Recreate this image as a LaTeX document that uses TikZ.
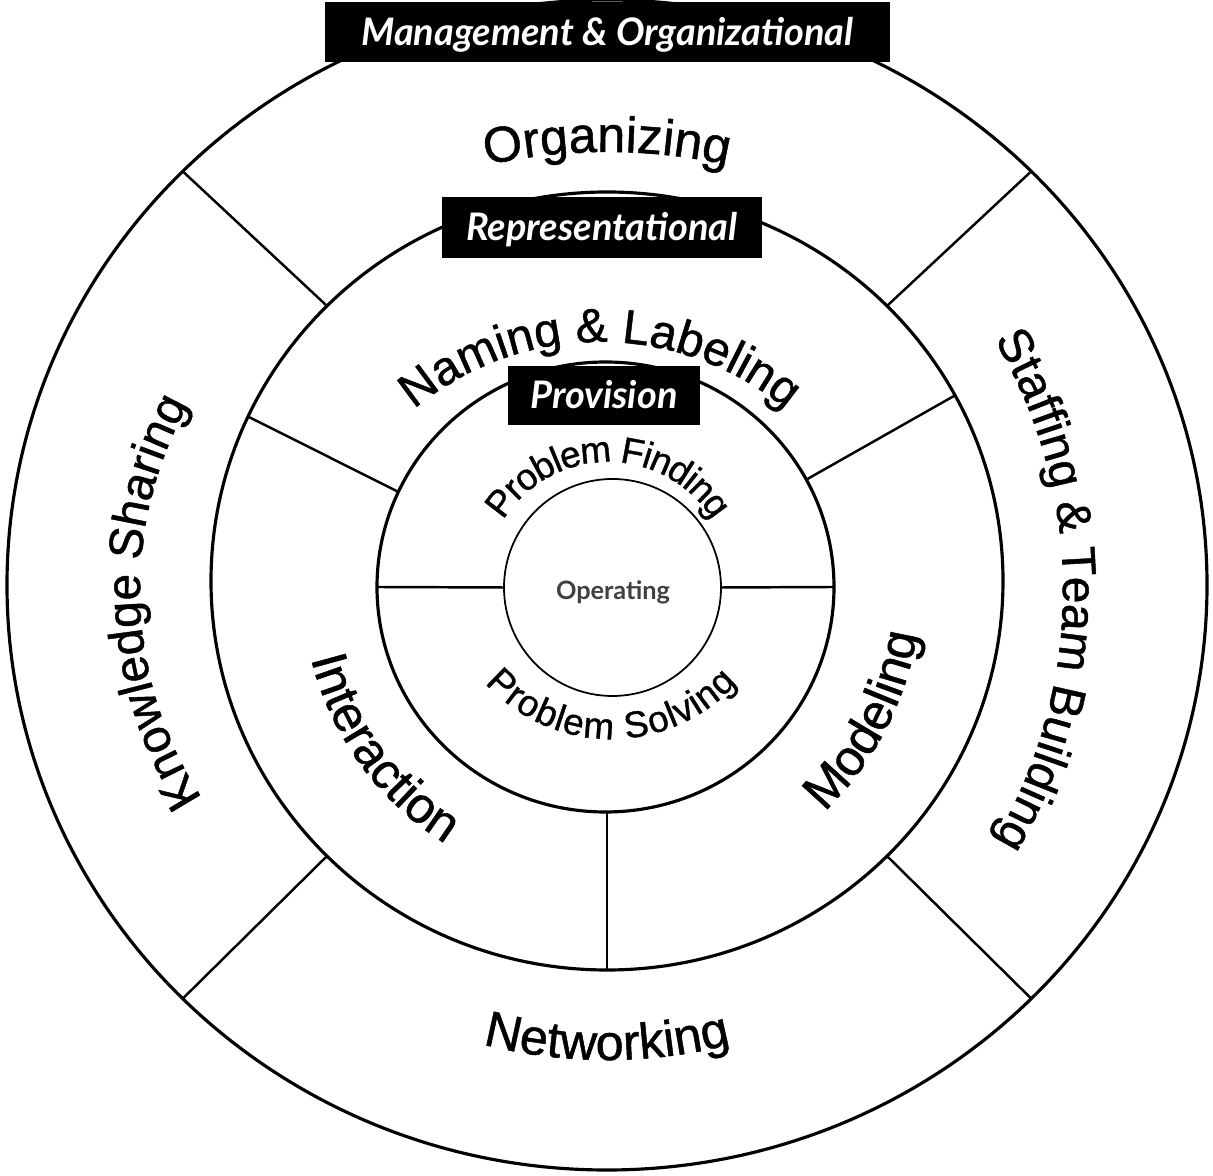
\documentclass[tikz,border=0pt]{standalone}
\usepackage{fontspec}
\usetikzlibrary{calc,decorations.text}
\setmainfont[FakeBold=1]{Liberation Sans}
\newfontfamily\tagFont{Lato}
\newcommand\ringFont{\fontsize{14.3}{17}\selectfont}
\newcommand\sideFont{\fontsize{13.6}{16}\selectfont}
\newcommand\coreFont{\fontsize{10.5}{12}\selectfont}

\begin{document}
\begin{tikzpicture}[ringStyle/.style={draw, line width=0.9pt}, splitStyle/.style={draw, line width=0.7pt}, tagStyle/.style={rectangle, fill=black, text=white, inner sep=0pt, text height=0.27cm, text depth=0pt, font=\tagFont\bfseries\itshape\fontsize{10.8}{12}\selectfont}, arcText/.style={decorate, decoration={text along path, text align=center, text={#1}}}, arcTextLow/.style={decorate, decoration={text along path, text align=center, raise=-0.1cm, text={#1}}}]
    \useasboundingbox (-6.07, -5.91) rectangle (6.06, 5.85);

    \draw[ringStyle] (0, 0) ellipse [x radius=6.00, y radius=5.85];
    \draw[ringStyle] (0, 0.04) ellipse [x radius=3.96, y radius=3.89];
    \draw[ringStyle] (-0.015, -0.02) ellipse [x radius=2.285, y radius=2.25];
    \draw[line width=0.5pt] (0.055, -0.025) circle [radius=1.085];

    \coordinate (outer_45)  at (45:6.00 and 5.85);
    \coordinate (outer_135) at (135:6.00 and 5.85);
    \coordinate (outer_225) at (225:6.00 and 5.85);
    \coordinate (outer_315) at (315:6.00 and 5.85);
    \coordinate (mid_28)  at ($(0, 0.04) + (28.5:3.96 and 3.89)$);
    \coordinate (mid_45)  at ($(0, 0.04) + (45:3.96 and 3.89)$);
    \coordinate (mid_135) at ($(0, 0.04) + (135:3.96 and 3.89)$);
    \coordinate (mid_155) at ($(0, 0.04) + (155:3.96 and 3.89)$);
    \coordinate (mid_225) at ($(0, 0.04) + (225:3.96 and 3.89)$);
    \coordinate (mid_270) at ($(0, 0.04) + (270:3.96 and 3.89)$);
    \coordinate (mid_315) at ($(0, 0.04) + (315:3.96 and 3.89)$);
    \coordinate (prov_0)   at ($(-0.015, -0.02) + (0:2.285 and 2.25)$);
    \coordinate (prov_28)  at ($(-0.015, -0.02) + (28.5:2.285 and 2.25)$);
    \coordinate (prov_155) at ($(-0.015, -0.02) + (155:2.285 and 2.25)$);
    \coordinate (prov_180) at ($(-0.015, -0.02) + (180:2.285 and 2.25)$);
    \coordinate (prov_270) at (0, -2.27);
    \coordinate (core_0)   at (1.14, -0.025);
    \coordinate (core_180) at (-1.03, -0.025);

    \draw[splitStyle] (outer_45)  -- (mid_45);
    \draw[splitStyle] (outer_135) -- (mid_135);
    \draw[splitStyle] (outer_225) -- (mid_225);
    \draw[splitStyle] (outer_315) -- (mid_315);
    \draw[splitStyle] (mid_28)  -- (prov_28);
    \draw[splitStyle] (mid_155) -- (prov_155);
    \draw[splitStyle] (mid_270) -- (prov_270);
    \draw[splitStyle] (prov_0)   -- (core_0);
    \draw[splitStyle] (prov_180) -- (core_180);

    \node[tagStyle, minimum width=5.65cm, minimum height=0.60cm] (tag_0) at (0.005, 5.53) {Management \& Organizational};
    \node[tagStyle, minimum width=3.20cm, minimum height=0.61cm] (tag_1) at (-0.05, 3.575) {Representational};
    \node[tagStyle, minimum width=1.92cm, minimum height=0.59cm] (tag_2) at (-0.03, 1.895) {Provision};
    \node[font=\tagFont\bfseries\fontsize{7.2}{9}\selectfont, text=black!75] (core) at (0.06, -0.07) {Operating};

    {\ringFont
    \path[arcText={Organizing}] ($(0, -1.27) + (110:5.6)$) arc[start angle=110, end angle=70, radius=5.6];
    \path[arcText={Networking}] ($(0, 0.25) + (250:5.0)$) arc[start angle=250, end angle=290, radius=5.0];
    \path[arcText={Interaction}] (156:3.05) arc[start angle=156, end angle=276, radius=3.05];
    \path[arcText={Modeling}] (272.4:3.14) arc[start angle=272.4, end angle=392.4, radius=3.14];
    }
    {\sideFont
    \path[arcText={Knowledge Sharing}] ($(-0.87, -0.05) + (232:3.8)$) arc[start angle=232, end angle=132, radius=3.8];
    \path[arcText={Staffing {\&} Team Building}] ($(-0.34, -0.05) + (45:4.9)$) arc[start angle=45, end angle=-45, radius=4.9];
    \path[arcText={Naming {\&} Labeling}] ($(-0.07, -0.47) + (150:2.9)$) arc[start angle=150, end angle=30, radius=2.9];
    }
    {\coreFont
    \path[arcTextLow={Problem Finding}] ($(0.01, 0) + (175:1.33)$) arc[start angle=175, end angle=5, radius=1.33];
    \path[arcTextLow={Problem Solving}] ($(0.04, 0.16) + (185:1.60)$) arc[start angle=185, end angle=355, radius=1.60];
    }
\end{tikzpicture}
\end{document}
